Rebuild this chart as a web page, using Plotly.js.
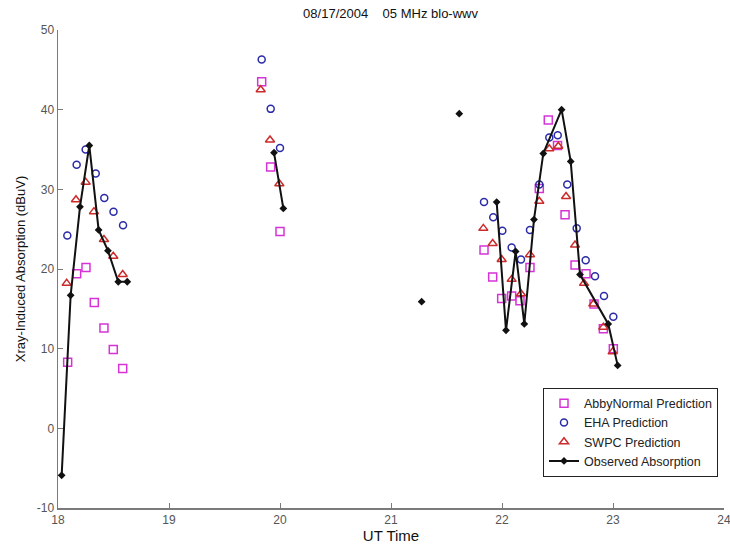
<!DOCTYPE html>
<html>
<head>
<meta charset="utf-8">
<script src="https://cdn.plot.ly/plotly-3.0.1.min.js"></script>
<style>html,body{margin:0;padding:0;background:#fff}#chart{width:730px;height:546px}</style>
</head>
<body>
<div id="chart"></div>
<script>
// AbbyNormal Prediction
const abbyTime = [18.087,18.168,18.252,18.327,18.414,18.498,18.583, 19.835,19.916,20.0, 21.838,21.916,21.997,22.087,22.162,22.252,22.336,22.417,22.50,22.568,22.658,22.757,22.829,22.913,23.003];
const abbyVal  = [8.3,19.4,20.2,15.8,12.6,9.9,7.5, 43.5,32.8,24.7, 22.4,19.0,16.3,16.6,16.0,20.2,30.1,38.7,35.5,26.8,20.5,19.4,15.6,12.5,10.0];
// EHA Prediction
const ehaTime = [18.084,18.168,18.249,18.34,18.417,18.50,18.586, 19.835,19.916,20.0, 21.838,21.921,22.003,22.087,22.171,22.252,22.336,22.426,22.502,22.588,22.673,22.754,22.838,22.919,23.003];
const ehaVal  = [24.2,33.1,35.0,32.0,28.9,27.2,25.5, 46.3,40.1,35.2, 28.4,26.5,24.8,22.7,21.2,24.9,30.6,36.5,36.8,30.6,25.1,21.1,19.1,16.6,14.0];
// SWPC Prediction
const swpcTime = [18.078,18.162,18.249,18.324,18.414,18.498,18.583, 19.826,19.91,19.994, 21.832,21.916,21.997,22.087,22.171,22.252,22.336,22.426,22.507,22.577,22.658,22.739,22.823,22.913,22.997];
const swpcVal  = [18.2,28.7,30.9,27.2,23.7,21.6,19.3, 42.5,36.2,30.7, 25.1,23.2,21.2,18.7,16.9,21.8,28.5,35.1,35.4,29.1,23.0,18.2,15.6,12.7,9.6];
// Observed Absorption (null separates data gaps)
const obsTime = [18.033,18.114,18.198,18.282,18.366,18.45,18.543,18.624, null, 19.946,20.03, null, 21.276, null, 21.615, null, 21.952,22.036,22.123,22.201,22.288,22.372,22.537,22.619,22.703,22.957,23.042];
const obsVal  = [-5.9,16.7,27.8,35.5,24.9,22.3,18.4,18.4, null, 34.6,27.6, null, 15.9, null, 39.5, null, 28.4,12.3,22.2,13.1,26.2,34.5,40.0,33.5,19.3,13.1,7.9];

const xTicks = [18,19,20,21,22,23,24];
const yTicks = [-10,0,10,20,30,40,50];

const traces = [
  {x: abbyTime, y: abbyVal, mode: 'markers', type: 'scatter', name: 'AbbyNormal Prediction',
   marker: {symbol: 'square-open', size: 8, color: '#d633d6', line: {width: 1.5}}},
  {x: ehaTime, y: ehaVal, mode: 'markers', type: 'scatter', name: 'EHA Prediction',
   marker: {symbol: 'circle-open', size: 7, color: '#2b2ba8', line: {width: 1.5}}},
  {x: swpcTime, y: swpcVal, mode: 'markers', type: 'scatter', name: 'SWPC Prediction',
   marker: {symbol: 'triangle-up-open', size: 8, color: '#cc2b2b', line: {width: 1.5}}},
  {x: obsTime, y: obsVal, mode: 'lines+markers', type: 'scatter', name: 'Observed Absorption',
   line: {color: '#111', width: 2}, marker: {symbol: 'diamond', size: 6, color: '#111'}, connectgaps: false}
];

const axisCommon = {
  showgrid: false, zeroline: false, showline: true, linecolor: '#7a7a7a', linewidth: 1.5,
  ticks: 'inside', ticklen: 5, tickcolor: '#7a7a7a', tickwidth: 1,
  tickfont: {family: 'Liberation Sans, Arial, sans-serif', size: 12, color: '#555'}, mirror: false
};

const layout = {
  width: 730, height: 546,
  margin: {l: 58, r: 6, t: 30, b: 38},
  paper_bgcolor: '#fff', plot_bgcolor: '#fff',
  title: {text: '08/17/2004    05 MHz blo-wwv', x: 0.535, xanchor: 'center', y: 0.975, yanchor: 'middle',
          font: {family: 'Liberation Sans, Arial, sans-serif', size: 13, color: '#111'}},
  xaxis: Object.assign({}, axisCommon, {range: [18, 24], tickvals: xTicks, ticktext: xTicks.map(String),
          ticklabeloverflow: 'allow', automargin: false,
          title: {text: 'UT Time', standoff: 4, font: {family: 'Liberation Sans, Arial, sans-serif', size: 15, color: '#111'}}}),
  yaxis: Object.assign({}, axisCommon, {range: [-10, 50], tickvals: yTicks, ticktext: yTicks.map(String),
          title: {text: 'Xray-Induced Absorption (dBuV)', standoff: 8, font: {family: 'Liberation Sans, Arial, sans-serif', size: 13, color: '#111'}}}),
  showlegend: true,
  legend: {x: 0.991, xanchor: 'right', y: 0.252, yanchor: 'top', bgcolor: '#fff', bordercolor: '#222', borderwidth: 1,
           font: {family: 'Liberation Sans, Arial, sans-serif', size: 12.5, color: '#222'}, tracegroupgap: 0, itemwidth: 30}
};

Plotly.newPlot('chart', traces, layout, {displayModeBar: false, staticPlot: true});
</script>
</body>
</html>
